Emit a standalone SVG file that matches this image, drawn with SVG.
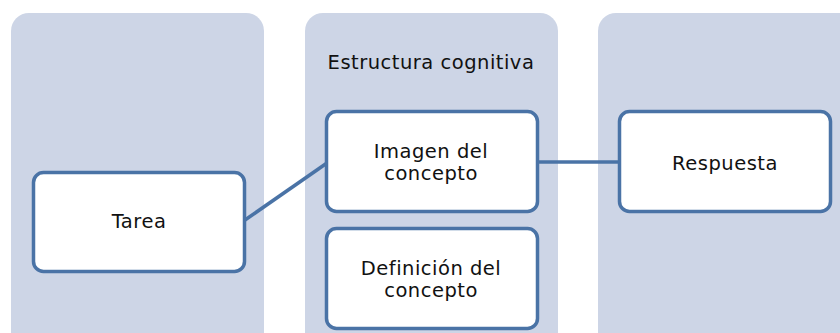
<svg xmlns="http://www.w3.org/2000/svg" width="840" height="333" viewBox="0 0 840 333">
<style>
.panel{fill:#cdd5e6;}
.box{fill:#ffffff;stroke:#4a73a6;stroke-width:3.5;}
.conn{stroke:#4a73a6;stroke-width:3.5;fill:none;}
text{font-family:"DejaVu Sans","Verdana",sans-serif;font-size:19.5px;fill:#111111;text-anchor:middle;letter-spacing:0.5px;}
</style>
<rect width="840" height="333" fill="#ffffff"/>
<g id="panel-left"><rect class="panel" x="11" y="13" width="253" height="340" rx="18"/></g>
<g id="panel-middle"><rect class="panel" x="305" y="13" width="253" height="340" rx="18"/>
<text x="431" y="69">Estructura cognitiva</text></g>
<g id="panel-right"><rect class="panel" x="598" y="13" width="260" height="340" rx="18"/></g>
<g id="connectors">
<line class="conn" x1="245" y1="220" x2="327" y2="163"/>
<line class="conn" x1="538" y1="162" x2="619" y2="162"/>
</g>
<g id="tarea"><rect class="box" x="33.5" y="172.5" width="211" height="99" rx="10"/>
<text x="139" y="228">Tarea</text></g>
<g id="imagen"><rect class="box" x="326.5" y="111.5" width="211" height="100" rx="10"/>
<text x="431" y="158">Imagen del</text><text x="431" y="179.5">concepto</text></g>
<g id="definicion"><rect class="box" x="326.5" y="228.5" width="211" height="100" rx="10"/>
<text x="431" y="275">Definición del</text><text x="431" y="296.5">concepto</text></g>
<g id="respuesta"><rect class="box" x="619.5" y="111.5" width="211" height="100" rx="10"/>
<text x="725" y="170">Respuesta</text></g>
</svg>
